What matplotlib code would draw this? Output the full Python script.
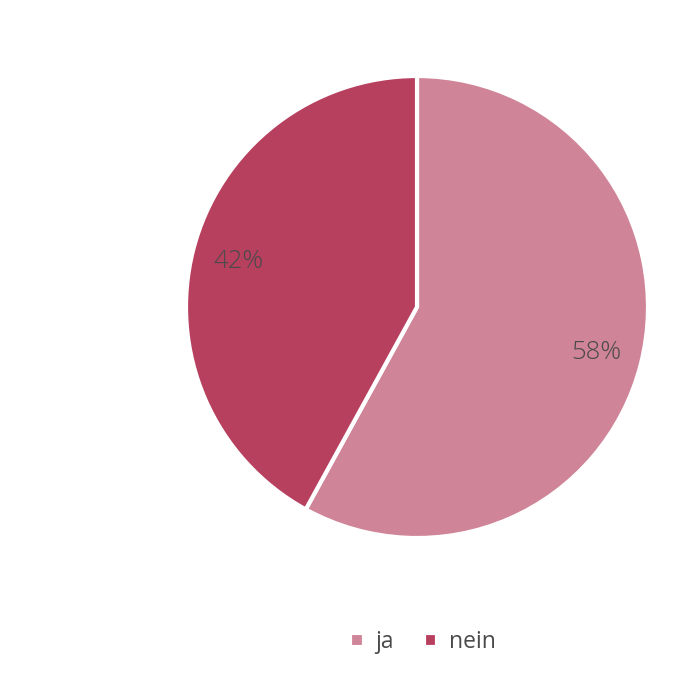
import matplotlib
matplotlib.use("Agg")
import matplotlib.pyplot as plt

categories = ["ja", "nein"]
values = [58, 42]
colors = ["#cf8498", "#b8405f"]

plt.rcParams['font.family'] = ['Open Sans', 'DejaVu Sans']

fig = plt.figure(figsize=(6.9, 6.9), dpi=100)
cx, cy, r = 417 / 690, 1 - 307 / 690, 231 / 690
ax = fig.add_axes([cx - r, cy - r, 2 * r, 2 * r])
wedges, texts, autotexts = ax.pie(
    values, colors=colors, startangle=90, counterclock=False, radius=1,
    autopct=lambda p: f"{p:.0f}%", pctdistance=0.8,
    wedgeprops=dict(edgecolor="white", linewidth=3),
    textprops=dict(color="#4a4a4a", fontsize=18.5, fontweight="light"))
ax.set_xlim(-1, 1)
ax.set_ylim(-1, 1)
ax.set_aspect("equal")
ax.axis("off")

fig.legend(wedges, categories, loc="center", bbox_to_anchor=(423 / 690, 1 - 642 / 690),
           ncol=2, frameon=False, fontsize=16.5, handlelength=0.6, handleheight=0.6,
           handletextpad=0.5, columnspacing=1.3, labelcolor="#4a4a4a")
fig.savefig("out.png", dpi=100, facecolor="white")
